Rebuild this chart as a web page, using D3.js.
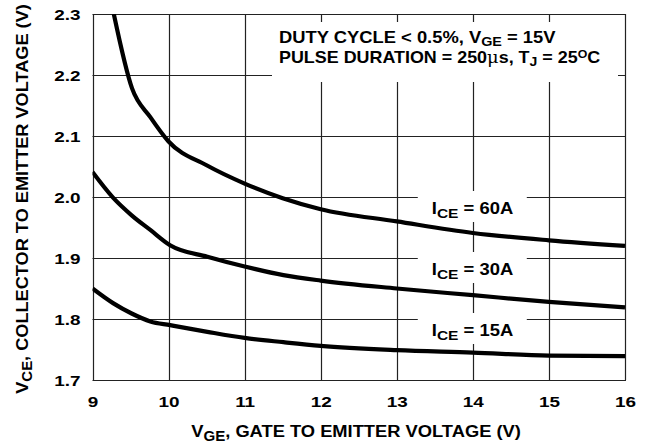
<!DOCTYPE html>
<html>
<head>
<meta charset="utf-8">
<script src="https://cdn.jsdelivr.net/npm/d3@7"></script>
<style>
  html, body { margin: 0; padding: 0; background: #fff; }
  svg text { font-family: "Liberation Sans", Arial, Helvetica, sans-serif; font-weight: bold; fill: #000; }
</style>
</head>
<body>
<svg id="chart" width="652" height="446"></svg>
<script>
// ---- data ----
const xTicks = [9, 10, 11, 12, 13, 14, 15, 16];
const yTicks = [1.7, 1.8, 1.9, 2.0, 2.1, 2.2, 2.3];

const vge60 = [9.28, 9.52, 9.76, 10.0, 10.5, 11.0, 11.5, 12.0, 13.0, 14.0, 15.0, 16.0];
const vce60 = [2.30, 2.178, 2.131, 2.091, 2.052, 2.022, 1.998, 1.980, 1.960, 1.941, 1.929, 1.920];

const vge30 = [9.0, 9.27, 9.515, 9.76, 10.02, 10.51, 11.0, 11.51, 12.0, 13.0, 14.0, 15.0, 16.0];
const vce30 = [2.041, 1.999, 1.970, 1.946, 1.921, 1.902, 1.886, 1.872, 1.863, 1.850, 1.839, 1.828, 1.819];

const vge15 = [9.0, 9.27, 9.515, 9.76, 10.02, 10.51, 11.0, 11.51, 12.0, 13.0, 14.0, 15.0, 16.0];
const vce15 = [1.850, 1.826, 1.809, 1.796, 1.790, 1.779, 1.769, 1.762, 1.756, 1.749, 1.745, 1.740, 1.739];

const seriesNames = ["60", "30", "15"];
const labelAnchors = [{ x: 13.46, y: 2.0 }, { x: 13.46, y: 1.9 }, { x: 13.46, y: 1.8 }];

// ---- layout ----
const svg = d3.select("#chart");
const L = 92.5, R = 625, T = 14, B = 380;
const x = d3.scaleLinear().domain([9, 16]).range([L, R]);
const y = d3.scaleLinear().domain([1.7, 2.3]).range([B, T]);
const gridColor = "#222";
const tickStretch = 1.22;

// helper: build text at origin, then stretch horizontally to a target width
function fitText(parent, build, tx, ty, targetW, anchor, rot) {
  const g = parent.append("g");
  const t = g.append("text").attr("x", 0).attr("y", 0).attr("text-anchor", anchor || "start");
  build(t);
  const w = t.node().getBBox().width;
  const s = targetW / w;
  g.attr("transform", `translate(${tx},${ty})` + (rot ? ` rotate(${rot})` : "") + ` scale(${s},1)`);
  return g;
}
function sub(t, txt, size, dy) {
  t.append("tspan").attr("font-size", size).attr("dy", dy).text(txt);
}

// grid
const grid = svg.append("g");
grid.selectAll("line.v").data(xTicks).enter().append("line")
  .attr("x1", d => Math.round(x(d)) + 0.5).attr("x2", d => Math.round(x(d)) + 0.5)
  .attr("y1", T).attr("y2", B)
  .attr("stroke", gridColor).attr("stroke-width", 1.2);
grid.selectAll("line.h").data(yTicks).enter().append("line")
  .attr("y1", d => Math.round(y(d)) + 0.5).attr("y2", d => Math.round(y(d)) + 0.5)
  .attr("x1", L).attr("x2", R + 1)
  .attr("stroke", gridColor).attr("stroke-width", 1.2);

// axes tick labels
const xAxis = d3.axisBottom(x).tickValues(xTicks).tickSize(0).tickPadding(0).tickFormat(d3.format("d"));
const gx = svg.append("g").attr("transform", `translate(0,${B})`).call(xAxis);
gx.select(".domain").remove();
gx.selectAll("text").attr("font-size", 15.5).attr("dy", null).attr("y", 27)
  .attr("transform", `scale(${tickStretch},1)`)
  .style("font-family", "Liberation Sans, Arial, sans-serif").style("font-weight", "bold");

const yAxis = d3.axisLeft(y).tickValues(yTicks).tickSize(0).tickPadding(0).tickFormat(d3.format(".1f"));
const gy = svg.append("g").attr("transform", `translate(${L},0)`).call(yAxis);
gy.select(".domain").remove();
gy.selectAll("text").attr("font-size", 15.5).attr("x", -12 / tickStretch).attr("dy", "0.36em")
  .attr("transform", `scale(${tickStretch},1)`)
  .style("font-family", "Liberation Sans, Arial, sans-serif").style("font-weight", "bold");

// annotation box
svg.append("rect").attr("x", 272).attr("y", 22).attr("width", 346).attr("height", 60).attr("fill", "#fff");
fitText(svg, t => {
  t.attr("font-size", 16);
  t.append("tspan").text("DUTY CYCLE < 0.5%, V");
  sub(t, "GE", 12.5, 3);
  t.append("tspan").attr("dy", -3).text(" = 15V");
}, 279, 43, 277, "start");
fitText(svg, t => {
  t.attr("font-size", 16);
  t.append("tspan").text("PULSE DURATION = 250");
  t.append("tspan").style("font-weight", "normal").style("font-family", "DejaVu Serif, serif").text("μ");
  t.append("tspan").text("s, T");
  sub(t, "J", 12.5, 3);
  t.append("tspan").attr("dy", -3).text(" = 25");
  t.append("tspan").attr("font-size", 11).attr("dy", -5).text("O");
  t.append("tspan").attr("dy", 5).text("C");
}, 279, 63, 322, "start");

// series labels
seriesNames.forEach((n, i) => {
  const a = labelAnchors[i];
  const bx = x(a.x), by = y(a.y);
  svg.append("rect").attr("x", bx - 14).attr("y", by - 6).attr("width", 109).attr("height", 31).attr("fill", "#fff");
  fitText(svg, t => {
    t.attr("font-size", 16);
    t.append("tspan").text("I");
    sub(t, "CE", 13.5, 4);
    t.append("tspan").attr("dy", -4).text(" = " + n + "A");
  }, bx, by + 17, 82, "start");
});

// curves
const line = d3.line().x(d => x(d[0])).y(d => y(d[1])).curve(d3.curveMonotoneX);
const series = [[vge60, vce60], [vge30, vce30], [vge15, vce15]];
svg.append("defs").append("clipPath").attr("id", "clip")
  .append("rect").attr("x", L).attr("y", T).attr("width", R - L + 2).attr("height", B - T);
svg.append("g").attr("clip-path", "url(#clip)")
  .selectAll("path").data(series).enter().append("path")
  .attr("d", s => line(s[0].map((v, i) => [v, s[1][i]])))
  .attr("fill", "none").attr("stroke", "#000").attr("stroke-width", 4.2).attr("stroke-linecap", "butt");

// axis titles
fitText(svg, t => {
  t.attr("font-size", 17);
  t.append("tspan").text("V");
  sub(t, "GE", 14, 4);
  t.append("tspan").attr("dy", -4).text(", GATE TO EMITTER VOLTAGE (V)");
}, 356, 437, 330, "middle");

fitText(svg, t => {
  t.attr("font-size", 17);
  t.append("tspan").text("V");
  sub(t, "CE", 14, 4);
  t.append("tspan").attr("dy", -4).text(", COLLECTOR TO EMITTER VOLTAGE (V)");
}, 28, 199, 390, "middle", -90);
</script>
</body>
</html>
